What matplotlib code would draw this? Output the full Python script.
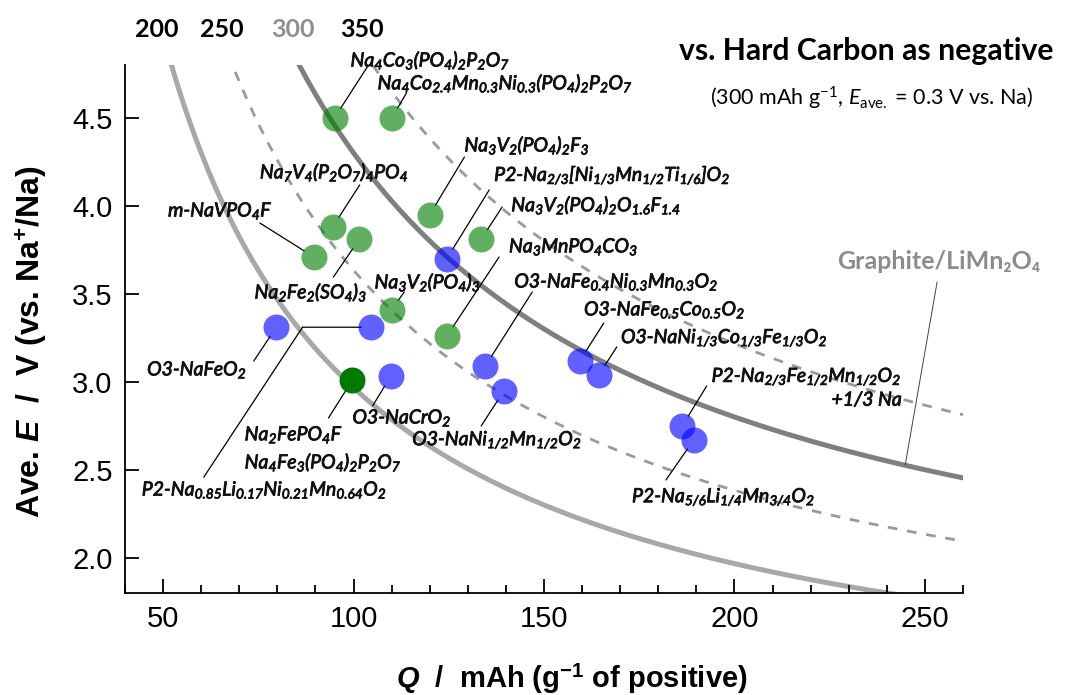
import numpy as np
import matplotlib.pyplot as plt
import matplotlib.patheffects as pe
from matplotlib.ticker import MultipleLocator

plt.rcParams['mathtext.fontset'] = 'custom'
plt.rcParams['mathtext.rm'] = 'Lato:italic'
plt.rcParams['mathtext.it'] = 'Lato:italic'
plt.rcParams['mathtext.sf'] = 'Lato'
plt.rcParams['mathtext.bf'] = 'Liberation Sans:bold'
plt.rcParams['mathtext.bfit'] = 'Liberation Sans:bold:italic'

# hard carbon negative electrode
hc_cap = 300.0   # mAh/g
hc_pot = 0.3     # V vs Na

# energy density iso-lines (Wh/kg)
levels = [200, 250, 300, 350]

# polyanion compounds (green)
green_names = [
    "Na$_4$Co$_3$(PO$_4$)$_2$P$_2$O$_7$",
    "Na$_4$Co$_{2.4}$Mn$_{0.3}$Ni$_{0.3}$(PO$_4$)$_2$P$_2$O$_7$",
    "Na$_3$V$_2$(PO$_4$)$_2$F$_3$",
    "Na$_7$V$_4$(P$_2$O$_7$)$_4$PO$_4$",
    "Na$_2$Fe$_2$(SO$_4$)$_3$",
    "m-NaVPO$_4$F",
    "Na$_3$V$_2$(PO$_4$)$_2$O$_{1.6}$F$_{1.4}$",
    "Na$_3$V$_2$(PO$_4$)$_3$",
    "Na$_3$MnPO$_4$CO$_3$",
]
green_q = [95, 110, 120, 94.5, 101.5, 89.5, 133.5, 110, 124.5]
green_e = [4.50, 4.50, 3.95, 3.88, 3.81, 3.71, 3.81, 3.41, 3.26]

# Na2FePO4F / Na4Fe3(PO4)2P2O7 (dark green, one point)
dark_names = ["Na$_2$FePO$_4$F", "Na$_4$Fe$_3$(PO$_4$)$_2$P$_2$O$_7$"]
dark_q = [99.7]
dark_e = [3.01]

# layered oxides (blue)
blue_names = [
    "P2-Na$_{2/3}$[Ni$_{1/3}$Mn$_{1/2}$Ti$_{1/6}$]O$_2$",
    "O3-NaFeO$_2$",
    "P2-Na$_{0.85}$Li$_{0.17}$Ni$_{0.21}$Mn$_{0.64}$O$_2$",
    "O3-NaCrO$_2$",
    "O3-NaFe$_{0.4}$Ni$_{0.3}$Mn$_{0.3}$O$_2$",
    "O3-NaNi$_{1/2}$Mn$_{1/2}$O$_2$",
    "O3-NaFe$_{0.5}$Co$_{0.5}$O$_2$",
    "O3-NaNi$_{1/3}$Co$_{1/3}$Fe$_{1/3}$O$_2$",
    "P2-Na$_{2/3}$Fe$_{1/2}$Mn$_{1/2}$O$_2$\n+1/3 Na",
    "P2-Na$_{5/6}$Li$_{1/4}$Mn$_{3/4}$O$_2$",
]
blue_q = [124.5, 79.7, 104.6, 109.7, 134.6, 139.5, 159.4, 164.4, 186.3, 189.3]
blue_e = [3.70, 3.31, 3.31, 3.03, 3.09, 2.95, 3.12, 3.04, 2.75, 2.67]

# label placement: text x, text y, leader start x, leader start y
green_pos = [
    (99.2, 4.828, 103.6, 4.789),
    (106.3, 4.698, 113.9, 4.641),
    (129.1, 4.345, 129.1, 4.277),
    (75.4, 4.192, 101.6, 4.118),
    (74.0, 3.510, 94.7, 3.595),
    (51.3, 3.970, 75.4, 3.902),
    (141.4, 4.005, 139.0, 3.993),
    (105.5, 3.567, 113.3, 3.510),
    (140.8, 3.766, 138.2, 3.709),
]
dark_text_xy = [(71.4, 2.698), (71.4, 2.544)]
dark_lead = (93.4, 2.794)
blue_pos = [
    (136.9, 4.175, 135.6, 4.090),
    (45.8, 3.067, 73.8, 3.118),
    (44.4, 2.385, 60.7, 2.459),
    (99.7, 2.794, 105.0, 2.863),
    (142.2, 3.567, 146.9, 3.510),
    (115.4, 2.669, 133.5, 2.749),
    (160.5, 3.408, 165.7, 3.334),
    (170.2, 3.249, 169.1, 3.198),
    (194.0, 2.968, 192.7, 2.976),
    (173.1, 2.345, 182.0, 2.442),
]
elbow_x = 86.6   # bend of the P2-Na0.85 leader

fig = plt.figure(figsize=(10.66, 6.95), dpi=100)
ax = fig.add_axes([0.1173, 0.1468, 0.7861, 0.7597])

q = np.linspace(40, 260, 500)
styles = [
    dict(color='#a8a8a8', lw=3.6, ls='-'),
    dict(color='#9a9a9a', lw=2.0, ls=(0, (3.5, 3.5))),
    dict(color='#7f7f7f', lw=3.6, ls='-'),
    dict(color='#9a9a9a', lw=2.0, ls=(0, (3.5, 3.5))),
]
for w, st in zip(levels, styles):
    ax.plot(q, hc_pot + w * (1 / q + 1 / hc_cap), zorder=1, **st)

thick = [pe.withStroke(linewidth=0.6, foreground='#111111')]
lab_font = dict(family='Lato', style='italic', fontsize=14, color='#111111',
                path_effects=thick)
lead = dict(arrowstyle='-', color='black', lw=0.9, shrinkA=0, shrinkB=8)

ax.scatter(green_q, green_e, s=350, color='#008000', alpha=0.62, lw=0, zorder=3)
ax.scatter(blue_q, blue_e, s=350, color='#0000ff', alpha=0.62, lw=0, zorder=3)
ax.scatter(dark_q, dark_e, s=350, color='#007a00', lw=0, zorder=3)

for name, x, y, p in zip(green_names, green_q, green_e, green_pos):
    ax.text(p[0], p[1], name, ha='left', va='center', clip_on=False, **lab_font)
    ax.annotate('', xy=(x, y), xytext=(p[2], p[3]), arrowprops=lead, zorder=2)

for name, (tx, ty) in zip(dark_names, dark_text_xy):
    ax.text(tx, ty, name, ha='left', va='center', **lab_font)
ax.annotate('', xy=(dark_q[0], dark_e[0]), xytext=dark_lead, arrowprops=lead, zorder=2)

for i, (name, x, y, p) in enumerate(zip(blue_names, blue_q, blue_e, blue_pos)):
    ax.text(p[0], p[1], name, ha='left', va='center', multialignment='right',
            linespacing=1.3, clip_on=False, **lab_font)
    if i == 2:
        ax.plot([p[2], elbow_x], [p[3], y], color='black', lw=0.9, zorder=2)
        ax.annotate('', xy=(x, y), xytext=(elbow_x, y),
                    arrowprops=dict(lead, shrinkB=7), zorder=2)
    else:
        ax.annotate('', xy=(x, y), xytext=(p[2], p[3]), arrowprops=lead, zorder=2)

# graphite / LiMn2O4 reference on the 300 Wh/kg line
g_q = 244.8
ax.text(280.2, 3.681, "Graphite/LiMn₂O₄", ha='right', va='center', color='#8c8c8c',
        fontsize=18, fontweight='bold', family=['Lato', 'DejaVu Sans'], clip_on=False)
ax.annotate('', xy=(g_q, hc_pot + 300 * (1 / g_q + 1 / hc_cap)), xytext=(253.2, 3.567),
            arrowprops=dict(arrowstyle='-', color='#444444', lw=0.7, shrinkA=0, shrinkB=0))

# energy density labels above the curves
top_x = [48.4, 65.4, 84.0, 102.1]
top_col = ['black', 'black', '#8e8e96', 'black']
for w, x, c in zip(levels, top_x, top_col):
    ax.text(x, 5.0, str(w), ha='center', va='center', fontsize=18, fontweight='bold',
            family='Lato', color=c, clip_on=False)

fig.text(0.988, 0.927, "vs. Hard Carbon as negative", ha='right', va='center',
         fontsize=21.7, fontweight='bold', family='Lato')
fig.text(0.818, 0.858, r"(300 mAh g$^{\mathsf{-1}}$, $E_{\mathsf{ave.}}$ = 0.3 V vs. Na)",
         ha='center', va='center', fontsize=15.5, family='Lato')

ax.set_xlim(40, 260)
ax.set_ylim(1.8, 4.8)
ax.set_xticks([50, 100, 150, 200, 250])
ax.xaxis.set_minor_locator(MultipleLocator(10))
ax.set_yticks([2.0, 2.5, 3.0, 3.5, 4.0, 4.5])
ax.spines['top'].set_visible(False)
ax.spines['right'].set_visible(False)
for s in ['left', 'bottom']:
    ax.spines[s].set_linewidth(1.3)
ax.tick_params(which='major', direction='in', length=10, width=1.3, labelsize=21, pad=9)
ax.tick_params(which='minor', direction='in', length=6, width=1.3)
for t in ax.get_xticklabels() + ax.get_yticklabels():
    t.set_family('Liberation Sans')

ax.set_xlabel(r"$\mathbfit{Q}$  /  mAh (g$^{\mathbf{-1}}$ of positive)", fontsize=21,
              fontweight='bold', family='Liberation Sans')
ax.xaxis.set_label_coords(0.533, -0.13)
ax.set_ylabel(r"Ave. $\mathbfit{E}$  /  V (vs. Na$^{\mathbf{+}}$/Na)", fontsize=23,
              fontweight='bold', family='Liberation Sans')
ax.yaxis.set_label_coords(-0.09, 0.475)

fig.savefig('out.png', dpi=100)
